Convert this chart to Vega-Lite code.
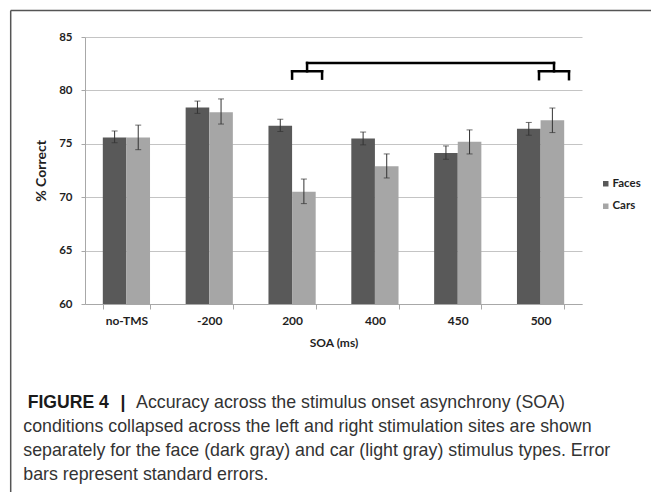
{
  "$schema": "https://vega.github.io/schema/vega-lite/v6.json",
  "width": 497,
  "height": 267,
  "autosize": "none",
  "padding": {"left": 85, "top": 37, "right": 69, "bottom": 188},
  "background": "white",
  "config": {
    "view": {"stroke": null},
    "font": "Lato"
  },
  "resolve": {"scale": {"x": "independent", "y": "independent"}},
  "layer": [
    {
      "data": {
        "values": [
          {"soa": "no-TMS", "type": "Faces", "pct": 75.6, "lo": 75.1, "hi": 76.2},
          {"soa": "no-TMS", "type": "Cars", "pct": 75.6, "lo": 74.45, "hi": 76.75},
          {"soa": "-200", "type": "Faces", "pct": 78.4, "lo": 77.85, "hi": 79.0},
          {"soa": "-200", "type": "Cars", "pct": 77.95, "lo": 76.85, "hi": 79.2},
          {"soa": "200", "type": "Faces", "pct": 76.7, "lo": 76.15, "hi": 77.3},
          {"soa": "200", "type": "Cars", "pct": 70.5, "lo": 69.4, "hi": 71.7},
          {"soa": "400", "type": "Faces", "pct": 75.5, "lo": 74.9, "hi": 76.1},
          {"soa": "400", "type": "Cars", "pct": 72.9, "lo": 71.8, "hi": 74.05},
          {"soa": "450", "type": "Faces", "pct": 74.15, "lo": 73.55, "hi": 74.8},
          {"soa": "450", "type": "Cars", "pct": 75.2, "lo": 74.05, "hi": 76.3},
          {"soa": "500", "type": "Faces", "pct": 76.4, "lo": 75.8, "hi": 77.0},
          {"soa": "500", "type": "Cars", "pct": 77.2, "lo": 76.05, "hi": 78.35}
        ]
      },
      "encoding": {
        "x": {
          "field": "soa", "type": "nominal",
          "sort": ["no-TMS", "-200", "200", "400", "450", "500"],
          "title": "SOA (ms)",
          "scale": {"paddingInner": 0.43, "paddingOuter": 0.215},
          "axis": {
            "tickBand": "extent", "grid": false,
            "domainColor": "#a8a8a8", "tickColor": "#a8a8a8", "tickSize": 5,
            "labelPadding": 6, "labelAngle": 0, "labelFont": "Lato",
            "labelFontSize": 12, "labelFontWeight": "bold", "labelColor": "#1f1f1f",
            "titleFont": "Lato", "titleFontSize": 12, "titleFontWeight": "bold",
            "titleColor": "#1f1f1f", "titlePadding": 11
          }
        },
        "xOffset": {
          "field": "type", "type": "nominal", "sort": ["Faces", "Cars"],
          "scale": {"paddingInner": 0, "paddingOuter": 0}
        }
      },
      "layer": [
        {
          "mark": {"type": "bar"},
          "encoding": {
            "y": {
              "field": "pct", "type": "quantitative", "title": "% Correct",
              "scale": {"domain": [60, 85], "nice": false, "zero": false},
              "axis": {
                "values": [60, 65, 70, 75, 80, 85],
                "grid": true, "gridColor": "#c4c4c4", "gridWidth": 1,
                "domainColor": "#a8a8a8", "tickColor": "#a8a8a8", "tickSize": 4,
                "labelPadding": 9, "labelFont": "Lato", "labelFontSize": 11.5,
                "labelFontWeight": "bold", "labelColor": "#1f1f1f",
                "titleFont": "Lato", "titleFontSize": 14, "titleFontWeight": "bold",
                "titleColor": "#1f1f1f", "titlePadding": 10
              }
            },
            "y2": {"datum": 60},
            "color": {
              "field": "type", "type": "nominal",
              "scale": {"domain": ["Faces", "Cars"], "range": ["#595959", "#a6a6a6"]},
              "legend": {
                "orient": "none", "legendX": 515, "legendY": 141, "title": null,
                "symbolType": "square", "symbolSize": 30, "symbolStrokeWidth": 0,
                "labelFont": "Lato", "labelFontWeight": "bold", "labelFontSize": 11.5,
                "labelColor": "#1f1f1f", "rowPadding": 9.5, "labelOffset": 1, "padding": 0
              }
            }
          }
        },
        {
          "mark": {"type": "rule", "color": "#333333", "strokeWidth": 1},
          "encoding": {
            "y": {"field": "lo", "type": "quantitative", "title": "% Correct"},
            "y2": {"field": "hi"}
          }
        },
        {
          "mark": {"type": "tick", "color": "#333333", "size": 6, "thickness": 1},
          "encoding": {"y": {"field": "lo", "type": "quantitative", "title": "% Correct"}}
        },
        {
          "mark": {"type": "tick", "color": "#333333", "size": 6, "thickness": 1},
          "encoding": {"y": {"field": "hi", "type": "quantitative", "title": "% Correct"}}
        }
      ]
    },
    {
      "layer": [
        {
          "data": {
            "values": [
              {"x": 2.5, "x2": 2.5, "y": 81.1, "y2": 81.79},
              {"x": 2.862, "x2": 2.862, "y": 81.1, "y2": 81.79},
              {"x": 2.5, "x2": 2.862, "y": 81.79, "y2": 81.79},
              {"x": 2.681, "x2": 2.681, "y": 81.79, "y2": 82.57},
              {"x": 2.681, "x2": 5.662, "y": 82.57, "y2": 82.57},
              {"x": 5.662, "x2": 5.662, "y": 81.79, "y2": 82.57},
              {"x": 5.481, "x2": 5.843, "y": 81.79, "y2": 81.79},
              {"x": 5.481, "x2": 5.481, "y": 81.05, "y2": 81.79},
              {"x": 5.843, "x2": 5.843, "y": 81.05, "y2": 81.79}
            ]
          },
          "mark": {"type": "rule", "color": "#000000", "strokeWidth": 2.5, "strokeCap": "square"},
          "encoding": {
            "x": {"field": "x", "type": "quantitative", "scale": {"domain": [0, 6], "nice": false, "zero": false}, "axis": null},
            "x2": {"field": "x2"},
            "y": {"field": "y", "type": "quantitative", "scale": {"domain": [60, 85], "nice": false, "zero": false}, "axis": null},
            "y2": {"field": "y2"}
          }
        },
        {
          "data": {"values": [{"edge": "top"}]},
          "mark": {"type": "rule", "color": "#555555", "strokeWidth": 1.5},
          "encoding": {
            "x": {"datum": -0.897, "type": "quantitative"},
            "x2": {"datum": 6.9},
            "y": {"datum": 87.49, "type": "quantitative"}
          }
        },
        {
          "data": {"values": [{"edge": "left"}]},
          "mark": {"type": "rule", "color": "#555555", "strokeWidth": 1.5},
          "encoding": {
            "x": {"datum": -0.897, "type": "quantitative"},
            "y": {"datum": 87.49, "type": "quantitative"},
            "y2": {"datum": 42}
          }
        },
        {
          "data": {"values": [{"t": "FIGURE 4"}]},
          "mark": {"type": "text", "align": "left", "baseline": "alphabetic", "font": "Liberation Sans", "fontSize": 17.6, "fontWeight": "bold", "color": "#1a1a1a"},
          "encoding": {
            "x": {"datum": -0.692, "type": "quantitative"},
            "y": {"datum": 50.26, "type": "quantitative"},
            "text": {"field": "t"}
          }
        },
        {
          "data": {"values": [{"t": "|"}]},
          "mark": {"type": "text", "align": "center", "baseline": "alphabetic", "font": "Liberation Sans", "fontSize": 17.6, "fontWeight": "bold", "color": "#1a1a1a"},
          "encoding": {
            "x": {"datum": 0.459, "type": "quantitative"},
            "y": {"datum": 50.26, "type": "quantitative"},
            "text": {"field": "t"}
          }
        },
        {
          "data": {"values": [{"t": "Accuracy across the stimulus onset asynchrony (SOA)"}]},
          "mark": {"type": "text", "align": "left", "baseline": "alphabetic", "font": "Liberation Sans", "fontSize": 17.8, "color": "#333333"},
          "encoding": {
            "x": {"datum": 0.616, "type": "quantitative"},
            "y": {"datum": 50.26, "type": "quantitative"},
            "text": {"field": "t"}
          }
        },
        {
          "data": {"values": [{"t": "conditions collapsed across the left and right stimulation sites are shown"}]},
          "mark": {"type": "text", "align": "left", "baseline": "alphabetic", "font": "Liberation Sans", "fontSize": 17.8, "color": "#333333"},
          "encoding": {
            "x": {"datum": -0.745, "type": "quantitative"},
            "y": {"datum": 48.04, "type": "quantitative"},
            "text": {"field": "t"}
          }
        },
        {
          "data": {"values": [{"t": "separately for the face (dark gray) and car (light gray) stimulus types. Error"}]},
          "mark": {"type": "text", "align": "left", "baseline": "alphabetic", "font": "Liberation Sans", "fontSize": 17.8, "color": "#333333"},
          "encoding": {
            "x": {"datum": -0.745, "type": "quantitative"},
            "y": {"datum": 45.8, "type": "quantitative"},
            "text": {"field": "t"}
          }
        },
        {
          "data": {"values": [{"t": "bars represent standard errors."}]},
          "mark": {"type": "text", "align": "left", "baseline": "alphabetic", "font": "Liberation Sans", "fontSize": 17.8, "color": "#333333"},
          "encoding": {
            "x": {"datum": -0.745, "type": "quantitative"},
            "y": {"datum": 43.55, "type": "quantitative"},
            "text": {"field": "t"}
          }
        }
      ]
    }
  ]
}
